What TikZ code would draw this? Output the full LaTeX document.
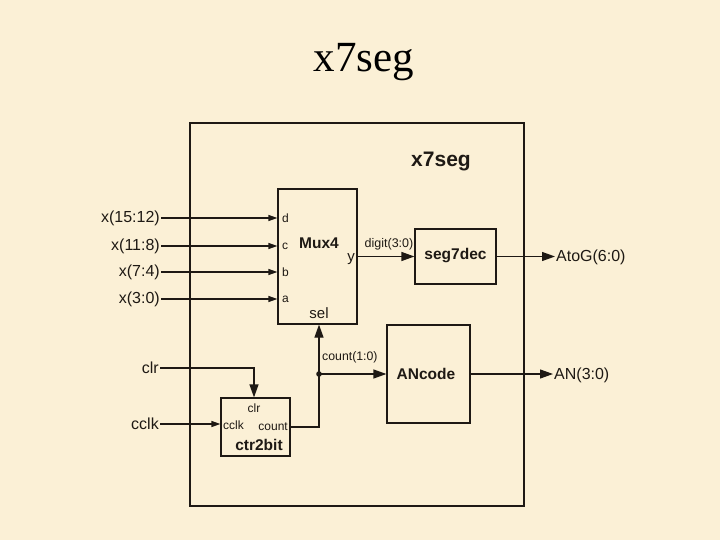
\documentclass[tikz,border=0pt]{standalone}
\usepackage{fontspec}
\setmainfont{Liberation Sans}
\newfontfamily\titlefont{Liberation Serif}
\usetikzlibrary{arrows.meta}
\definecolor{parch}{RGB}{251,240,214}
\definecolor{ink}{RGB}{30,25,20}
\begin{document}
\begin{tikzpicture}[x=1pt,y=-1pt,
  blk/.style={draw=ink,line width=1.2pt,fill=none,inner sep=0},
  wire/.style={draw=ink,line width=1.2pt},
  bigarr/.style={wire,-{Triangle[length=13pt,width=9pt]}},
  smallarr/.style={wire,-{Triangle[length=9pt,width=6pt]}},
  lab/.style={font=\fontsize{16}{18}\selectfont,text=ink,inner sep=1pt},
  port/.style={font=\fontsize{12}{14}\selectfont,text=ink,inner sep=1pt},
  bold/.style={font=\fontsize{15.5}{18}\selectfont\bfseries,text=ink,inner sep=1pt}]
\fill[parch] (0,0) rectangle (720,540);
\useasboundingbox (0,0) rectangle (720,540);
\node[font=\titlefont\fontsize{43}{47}\selectfont,text=black] (title) at (364,62) {x7seg};
% outer box
\draw[draw=ink,line width=1.7pt] (190,123) rectangle (524,506);
\node[font=\fontsize{21}{24}\selectfont\bfseries,text=ink] (top) at (441,162) {x7seg};
% Mux4
\node[blk,minimum width=79pt,minimum height=135pt] (mux) at (317.5,256.5) {};
\node[bold] (muxl) at (319,243) {Mux4};
\node[port,anchor=west] (pd) at (281,218) {d};
\node[port,anchor=west] (pc) at (281,246) {c};
\node[port,anchor=west] (pb) at (281,272) {b};
\node[port,anchor=west] (pa) at (281,299) {a};
\node[lab,anchor=east,font=\fontsize{15}{17}\selectfont] (py) at (356,259) {y};
\node[lab,font=\fontsize{15}{17}\selectfont] (psel) at (319,313) {sel};
% seg7dec
\node[blk,minimum width=81pt,minimum height=55pt] (seg) at (455.5,256.5) {};
\node[bold] (segl) at (455.5,256) {seg7dec};
% ANcode
\node[blk,minimum width=83pt,minimum height=98pt] (anc) at (428.5,374) {};
\node[bold] (ancl) at (426,374) {ANcode};
% ctr2bit
\node[blk,minimum width=69pt,minimum height=58pt] (ctr) at (255.5,427) {};
\node[port] (cclr) at (254,408) {clr};
\node[port,anchor=west] (ccclk) at (222,425) {cclk};
\node[port,anchor=east] (ccnt) at (289,427) {count};
\node[bold] (ctrl) at (259,445) {ctr2bit};
% input labels
\node[lab,anchor=east] (i3) at (161,218) {x(15:12)};
\node[lab,anchor=east] (i2) at (161,246) {x(11:8)};
\node[lab,anchor=east] (i1) at (161,272) {x(7:4)};
\node[lab,anchor=east] (i0) at (161,299) {x(3:0)};
\node[lab,anchor=east] (iclr) at (160,368) {clr};
\node[lab,anchor=east] (iclk) at (160,424) {cclk};
\draw[smallarr] (i3.east) -- (mux.west |- i3.east);
\draw[smallarr] (i2.east) -- (mux.west |- i2.east);
\draw[smallarr] (i1.east) -- (mux.west |- i1.east);
\draw[smallarr] (i0.east) -- (mux.west |- i0.east);
\draw[smallarr] (iclk.east) -- (ctr.west |- iclk.east);
\coordinate (clrc) at (254,368);
\draw[bigarr] (iclr.east) -- (clrc) -- (ctr.north -| clrc);
% outputs
\node[lab,anchor=west] (oatog) at (555,257) {AtoG(6:0)};
\node[lab,anchor=west] (oan) at (553,375) {AN(3:0)};
\draw[bigarr] (mux.east |- seg.west) -- (seg.west);
\node[port,font=\fontsize{12.5}{14}\selectfont] (dl) at (389,244) {digit(3:0)};
\draw[bigarr] (seg.east) -- (oatog.west |- seg.east);
\draw[bigarr] (anc.east) -- (oan.west |- anc.east);
% count net
\coordinate (cj1) at (319,427);
\coordinate (dot) at (319,374);
\draw[bigarr] (ctr.east |- cj1) -- (cj1) -- (mux.south -| cj1);
\draw[bigarr] (dot) -- (anc.west |- dot);
\fill[ink] (dot) circle (2.8pt);
\node[port,anchor=west,font=\fontsize{12.3}{14}\selectfont] (cntl) at (321,357) {count(1:0)};
\end{tikzpicture}
\end{document}
